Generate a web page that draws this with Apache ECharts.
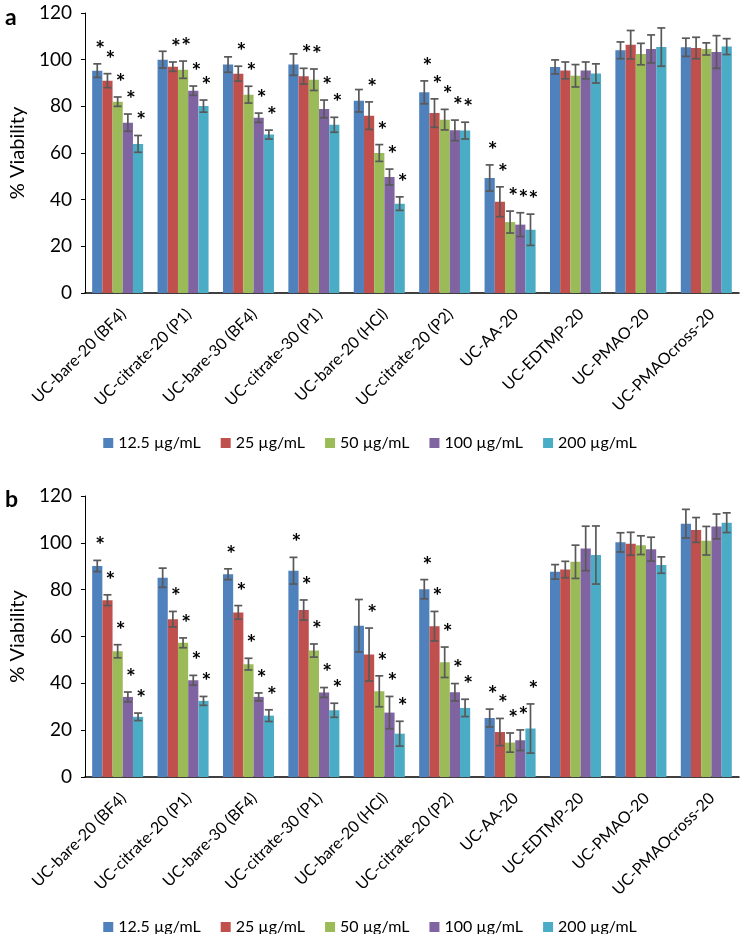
<!DOCTYPE html>
<html>
<head>
<meta charset="utf-8">
<script src="https://cdn.jsdelivr.net/npm/echarts@6/dist/echarts.min.js"></script>
<style>html,body{margin:0;padding:0;background:#fff}#c{width:740px;height:934px}</style>
</head>
<body>
<div id="c"></div>
<script>
const categories = ['UC-bare-20 (BF4)','UC-citrate-20 (P1)','UC-bare-30 (BF4)','UC-citrate-30 (P1)','UC-bare-20 (HCl)','UC-citrate-20 (P2)','UC-AA-20','UC-EDTMP-20','UC-PMAO-20','UC-PMAOcross-20'];
const seriesNames = ['12.5 µg/mL','25 µg/mL','50 µg/mL','100 µg/mL','200 µg/mL'];
const yTicks = [0, 20, 40, 60, 80, 100, 120];

// Panel a: mean % viability per concentration
const valA = [
  [95.3, 100, 97.9, 97.9, 82.4, 86, 49.3, 96.9, 104, 105.3],
  [91, 97, 94, 92.9, 76, 77.1, 39.1, 95.4, 106.4, 105],
  [82, 95.7, 85, 91.4, 60, 74.3, 30.4, 93.1, 102.4, 104.6],
  [73, 86.7, 75.1, 78.9, 49.7, 69.7, 29.3, 95.4, 104.6, 103.3],
  [63.9, 80.1, 67.9, 72.1, 38.3, 69.6, 27.1, 94.1, 105.4, 105.6]
];
const errA = [
  [2.9, 3.6, 3.3, 4.6, 4.8, 4.9, 5.6, 3, 3.6, 3.9],
  [3, 2, 3.2, 3.4, 5.9, 6.1, 6.4, 3.6, 6.1, 4.6],
  [2, 3.7, 3.6, 4.6, 3.6, 4.4, 4.7, 4.8, 4.6, 2.6],
  [3.7, 2, 2, 3.8, 3.4, 4.4, 5.1, 3.6, 6, 7],
  [3.6, 2.6, 1.9, 3.2, 2.9, 3.6, 6.7, 4.1, 8.2, 3.4]
];
const starA = [
  [1,0,0,0,0,1,1,0,0,0],
  [1,1,1,1,1,1,1,0,0,0],
  [1,1,1,1,1,1,1,0,0,0],
  [1,1,1,1,1,1,1,0,0,0],
  [1,1,1,1,1,1,1,0,0,0]
];

// Panel b
const valB = [
  [90.1, 85.1, 86.6, 88.1, 64.6, 80.2, 25.2, 87.6, 100.2, 108.2],
  [75.5, 67.4, 70.3, 71.3, 52.3, 64.4, 19.2, 88.6, 99.6, 105.5],
  [53.7, 57.3, 48.2, 54, 36.6, 49, 14.7, 91.9, 99, 100.9],
  [34.2, 41.3, 34.2, 36.1, 27.5, 36.2, 15.7, 97.6, 97.3, 107],
  [25.7, 32.5, 26.2, 28.5, 18.5, 29.5, 20.7, 94.8, 90.5, 108.6]
];
const errB = [
  [2.4, 4.1, 2.3, 5.7, 11.2, 4.1, 3.8, 3.1, 4.1, 6.1],
  [2.3, 3.3, 2.9, 4.3, 11.3, 6.3, 5.8, 3.5, 4.9, 5.3],
  [2.8, 2.1, 2.5, 2.8, 6.6, 6.5, 4.1, 7.1, 4, 6.1],
  [2.1, 2.1, 1.7, 2.1, 6.9, 3.7, 4.4, 9.5, 5.1, 5.3],
  [1.6, 1.9, 2.5, 3, 5.3, 3.7, 10.5, 12.4, 3.5, 4.2]
];
const starB = [
  [1,0,1,1,0,1,1,0,0,0],
  [1,1,1,1,1,1,1,0,0,0],
  [1,1,1,1,1,1,1,0,0,0],
  [1,1,1,1,1,1,1,0,0,0],
  [1,1,1,1,1,1,1,0,0,0]
];

const colors = ['#4F81BD','#C0504D','#9BBB59','#8064A2','#4BACC6'];
const FONT = 'Lato';
const GAP = 0.22;

function xAxisFor(gi) {
  return {
    type: 'category', gridIndex: gi, data: categories,
    axisLine: { lineStyle: { color: '#000', width: 1.5 } },
    axisTick: { show: false },
    axisLabel: { rotate: 45, interval: 0, fontFamily: FONT, fontSize: 16, color: '#000',
                 margin: 13, verticalAlign: 'top' }
  };
}
function yAxisFor(gi) {
  return {
    type: 'value', gridIndex: gi, min: yTicks[0], max: yTicks[yTicks.length-1], interval: 20,
    name: '% Viability', nameLocation: 'middle', nameGap: 50,
    nameTextStyle: { fontFamily: FONT, fontSize: 20, color: '#000' },
    axisLine: { show: true, lineStyle: { color: '#000', width: 1 } },
    axisTick: { show: true, length: 4, lineStyle: { color: '#000' } },
    splitLine: { show: false },
    axisLabel: { fontFamily: FONT, fontSize: 19, color: '#000', margin: 13 }
  };
}

function makeErr(gi, si, vals, errs, stars) {
  const data = vals.map((v, i) => [i, v, errs[i], stars[i]]);
  return {
    type: 'custom', name: 'err' + gi + '-' + si, xAxisIndex: gi, yAxisIndex: gi,
    silent: true, z: 5, data: data,
    renderItem: function (params, api) {
      const ci = api.value(0), v = api.value(1), e = api.value(2), s = api.value(3);
      const catW = api.size([1, 0])[0];
      const bw = catW * (1 - GAP) / 5;
      const cx = api.coord([ci, v])[0] + (si - 2) * bw;
      const yt = api.coord([ci, v + e])[1];
      const yb = api.coord([ci, v - e])[1];
      const cap = 4;
      const st = { stroke: '#595959', lineWidth: 1.7 };
      const children = [
        { type: 'line', shape: { x1: cx, y1: yt, x2: cx, y2: yb }, style: st },
        { type: 'line', shape: { x1: cx - cap, y1: yt, x2: cx + cap, y2: yt }, style: st },
        { type: 'line', shape: { x1: cx - cap, y1: yb, x2: cx + cap, y2: yb }, style: st }
      ];
      if (s) {
        children.push({ type: 'text', style: { text: '*', x: cx + 3, y: yt - 3, align: 'center', verticalAlign: 'bottom',
          font: 'bold 23px ' + FONT, fill: '#000' } });
      }
      return { type: 'group', children: children };
    }
  };
}

const series = [];
[[valA, errA, starA], [valB, errB, starB]].forEach((p, gi) => {
  p[0].forEach((vals, si) => {
    series.push({ type: 'bar', name: seriesNames[si], xAxisIndex: gi, yAxisIndex: gi, data: vals,
      barGap: '0%', barCategoryGap: (GAP * 100) + '%', itemStyle: { color: colors[si] } });
  });
});
[[valA, errA, starA], [valB, errB, starB]].forEach((p, gi) => {
  p[0].forEach((vals, si) => series.push(makeErr(gi, si, vals, p[1][si], p[2][si])));
});

const legendBase = { data: seriesNames, left: 'center', itemWidth: 10, itemHeight: 10, itemGap: 20,
  icon: 'rect', textStyle: { fontFamily: FONT, fontSize: 16, color: '#000' } };

const chart = echarts.init(document.getElementById('c'));
chart.setOption({
  animation: false,
  color: colors,
  title: [
    { text: 'a', left: 0, top: 1, textStyle: { fontFamily: FONT, fontSize: 23, fontWeight: 'bold', color: '#000' } },
    { text: 'b', left: 0, top: 483, textStyle: { fontFamily: FONT, fontSize: 23, fontWeight: 'bold', color: '#000' } }
  ],
  legend: [ Object.assign({ top: 430 }, legendBase), Object.assign({ top: 914 }, legendBase) ],
  grid: [
    { left: 71, right: 1, top: 13, height: 280 },
    { left: 71, right: 1, top: 496, height: 281 }
  ],
  xAxis: [xAxisFor(0), xAxisFor(1)],
  yAxis: [yAxisFor(0), yAxisFor(1)],
  series: series
});
</script>
</body>
</html>
